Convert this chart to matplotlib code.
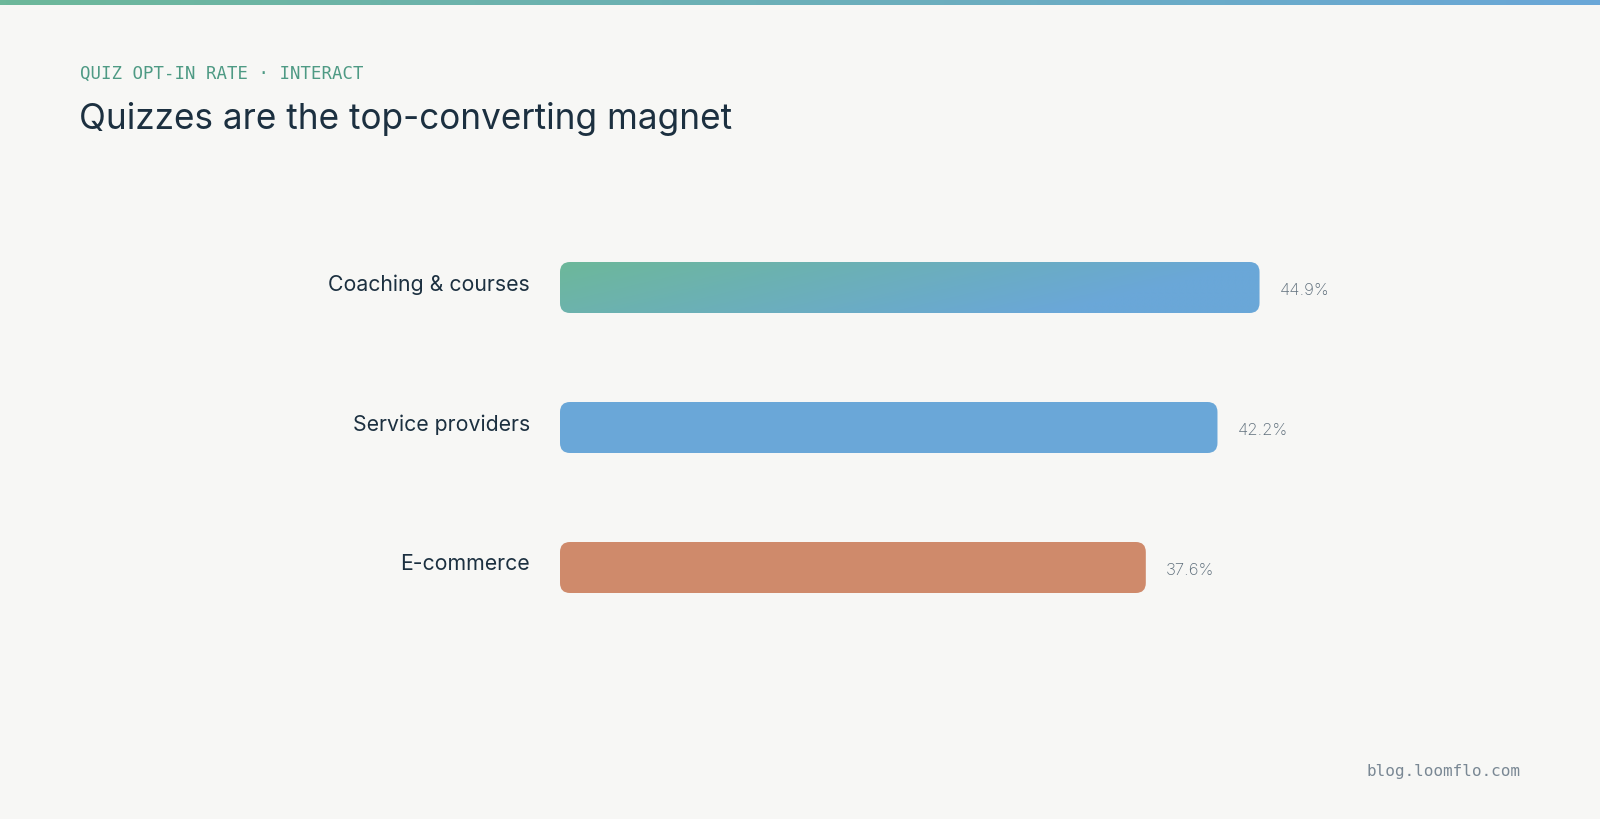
import numpy as np
import matplotlib
matplotlib.use("Agg")
import matplotlib.pyplot as plt
from matplotlib.patches import FancyBboxPatch
from matplotlib.colors import LinearSegmentedColormap

# data
categories = ["Coaching & courses", "Service providers", "E-commerce"]
rates = [44.9, 42.2, 37.6]
bar_colors = [None, "#6AA7D8", "#CF8A6B"]   # None -> gradient
kicker = "QUIZ OPT-IN RATE · INTERACT"
title = "Quizzes are the top-converting magnet"
footer = "blog.loomflo.com"

W, H = 1600, 820
bg = "#F7F7F5"
ink = "#1C3040"
grad = LinearSegmentedColormap.from_list("g", ["#6DB89A", "#6AA7D8"])

fig = plt.figure(figsize=(W / 100, H / 100), dpi=100, facecolor=bg)

# top accent strip
strip = fig.add_axes([0, 1 - 6 / H, 1, 6 / H])
strip.imshow(np.linspace(0, 1, 256)[None, :], aspect="auto", cmap=grad)
strip.axis("off")

fig.text(80 / W, 1 - 74 / H, kicker, family="DejaVu Sans Mono", fontsize=12.5,
         color="#4E9A84", va="center", ha="left")
fig.text(79 / W, 1 - 119 / H, title, family="Inter", fontsize=25.3,
         color=ink, va="center", ha="left")
fig.text(1520 / W, 1 - 772 / H, footer, family="DejaVu Sans Mono", fontsize=11.5,
         color="#7A8894", va="center", ha="right")

# bar area: x=0 at 560px, 15.58 px per point; rows 140px apart
x0_px, px_per = 560, 15.58
ax_w = 900
ax = fig.add_axes([x0_px / W, 1 - 638.5 / H, ax_w / W, 420 / H])
ax.set_facecolor(bg)
ax.set_xlim(0, ax_w / px_per)
ax.set_ylim(2.5, -0.5)
ax.axis("off")

bar_h = 51 / 140
radius = 10 / px_per
aspect = (1 / 140) / (1 / px_per)

for i, (cat, v, c) in enumerate(zip(categories, rates, bar_colors)):
    y0 = i - bar_h / 2
    patch = FancyBboxPatch((0, y0), v, bar_h,
                           boxstyle=f"round,pad=0,rounding_size={radius}",
                           mutation_aspect=aspect,
                           facecolor=c if c else "none", edgecolor="none")
    ax.add_patch(patch)
    if c is None:
        gx, gy = np.meshgrid(np.linspace(0, 1, 300), np.linspace(0, 1, 40))
        t = np.clip(0.85 * gx + 0.25 * gy, 0, 1)
        im = ax.imshow(t, extent=(0, v, y0 + bar_h, y0), cmap=grad,
                       aspect="auto", origin="upper", vmin=0, vmax=0.85)
        im.set_clip_path(patch)
    ax.text(-30 / px_per, i - 0.03, cat, family="Inter", fontsize=15.3,
            color=ink, ha="right", va="center")
    ax.text(v + 20 / px_per, i + 0.015, f"{v}%", family="Inter", fontsize=12,
            fontweight="light", color="#5E6E7B", ha="left", va="center")

ax.set_xlim(0, ax_w / px_per)
ax.set_ylim(2.5, -0.5)

fig.savefig("out.png", dpi=100, facecolor=bg)
